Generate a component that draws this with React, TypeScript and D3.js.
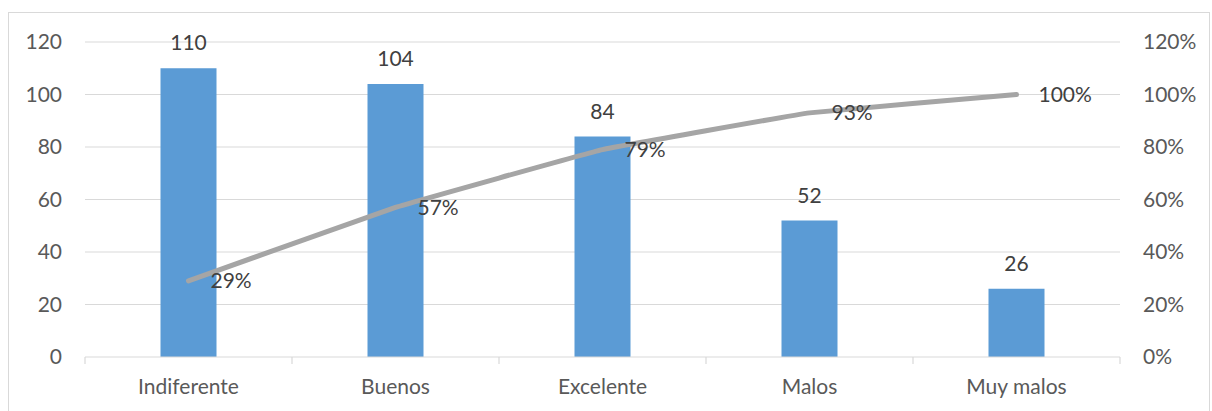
import React from "react";
import * as d3 from "d3";

const categories = ["Indiferente", "Buenos", "Excelente", "Malos", "Muy malos"];
const counts = [110, 104, 84, 52, 26];
const cumulativePct = [0.29, 0.57, 0.79, 0.93, 1.0];
const leftTicks = [0, 20, 40, 60, 80, 100, 120];
const rightTicks = [0, 0.2, 0.4, 0.6, 0.8, 1.0, 1.2];

const W = 1212;
const H = 411;
const M = { left: 85, right: 1120, top: 42, bottom: 357 };
const FONT = "Lato, 'Open Sans', sans-serif";

export default function App() {
  const x = d3.scaleBand<string>().domain(categories).range([M.left, M.right]);
  const yL = d3.scaleLinear().domain([0, 120]).range([M.bottom, M.top]);
  const yR = d3.scaleLinear().domain([0, 1.2]).range([M.bottom, M.top]);
  const barW = 56;
  const cx = (c: string) => (x(c) ?? 0) + x.bandwidth() / 2;

  const line = d3
    .line<number>()
    .x((_, i) => cx(categories[i]))
    .y((d) => yR(d))
    .curve(d3.curveCardinal.tension(0.8));

  const boundaries = d3.range(categories.length + 1).map((i) => M.left + i * x.bandwidth());

  return (
    <svg
      width={W}
      height={H}
      style={{ position: "absolute", left: 0, top: 0, background: "#fff" }}
      fontFamily={FONT}
    >
      <rect x={8.5} y={12.5} width={1201} height={420} fill="#fff" stroke="#d9d9d9" strokeWidth={1} />

      {/* horizontal gridlines */}
      {leftTicks.slice(1).map((t) => (
        <line key={t} x1={M.left} x2={M.right} y1={yL(t)} y2={yL(t)} stroke="#d9d9d9" strokeWidth={1.2} />
      ))}

      {/* bars */}
      {categories.map((c, i) => (
        <rect
          key={c}
          x={cx(c) - barW / 2}
          y={yL(counts[i])}
          width={barW}
          height={yL(0) - yL(counts[i])}
          fill="#5b9bd5"
        />
      ))}

      {/* category axis */}
      <line x1={M.left} x2={M.right} y1={M.bottom} y2={M.bottom} stroke="#d9d9d9" strokeWidth={1.2} />
      {boundaries.map((b, i) => (
        <line key={i} x1={b} x2={b} y1={M.bottom} y2={M.bottom + 7} stroke="#d9d9d9" strokeWidth={1.2} />
      ))}
      {categories.map((c) => (
        <text key={c} x={cx(c)} y={394} textAnchor="middle" fontSize={21} fill="#595959">
          {c}
        </text>
      ))}

      {/* left axis labels */}
      {leftTicks.map((t) => (
        <text key={t} x={62} y={yL(t)} dy="0.35em" textAnchor="end" fontSize={21} fill="#595959">
          {t}
        </text>
      ))}

      {/* right axis labels */}
      {rightTicks.map((t) => (
        <text key={t} x={1143} y={yR(t)} dy="0.35em" textAnchor="start" fontSize={21} fill="#595959">
          {d3.format(".0%")(t)}
        </text>
      ))}

      {/* cumulative line */}
      <path
        d={line(cumulativePct) ?? ""}
        fill="none"
        stroke="#a5a5a5"
        strokeWidth={5}
        strokeLinecap="round"
        strokeLinejoin="round"
      />

      {/* bar value labels */}
      {categories.map((c, i) => (
        <text key={c} x={cx(c)} y={yL(counts[i]) - 18} textAnchor="middle" fontSize={21} fill="#404040">
          {counts[i]}
        </text>
      ))}

      {/* cumulative labels */}
      {categories.map((c, i) => (
        <text
          key={c}
          x={cx(c) + 22}
          y={yR(cumulativePct[i])}
          dy="0.35em"
          textAnchor="start"
          fontSize={21}
          fill="#404040"
        >
          {d3.format(".0%")(cumulativePct[i])}
        </text>
      ))}
    </svg>
  );
}
